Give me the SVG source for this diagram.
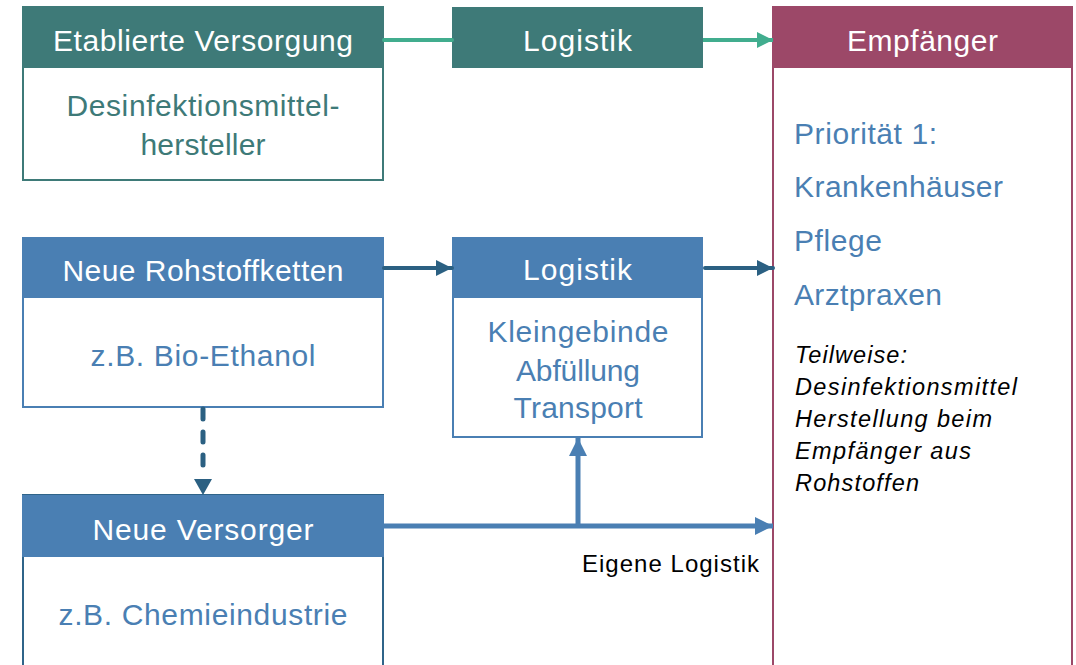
<svg xmlns="http://www.w3.org/2000/svg" width="1076" height="665" viewBox="0 0 1076 665">
<style>
text{font-family:"Liberation Sans",Arial,sans-serif}
.hd{fill:#fff;font-size:30px;text-anchor:middle}
.bt{font-size:30px;text-anchor:middle}
.teal{fill:#3E7A78}
.blue{fill:#4A7FB3}
.rt{fill:#4A7FB3;font-size:30px}
.it{fill:#000;font-size:23.5px;font-style:italic}
.box{fill:#fff;stroke-width:2}
</style>
<defs>
<marker id="aTeal" viewBox="0 0 10 10" refX="10" refY="5" markerWidth="4" markerHeight="4" orient="auto" markerUnits="strokeWidth"><path d="M0,0L10,5L0,10z" fill="#41AD8E"/></marker>
<marker id="aDark" viewBox="0 0 10 10" refX="10" refY="5" markerWidth="4" markerHeight="4" orient="auto" markerUnits="strokeWidth"><path d="M0,0L10,5L0,10z" fill="#2B6082"/></marker>
<marker id="aBlue" viewBox="0 0 10 10" refX="10" refY="5" markerWidth="3.6" markerHeight="3.6" orient="auto" markerUnits="strokeWidth"><path d="M0,0L10,5L0,10z" fill="#4A7FB3"/></marker>
</defs>

<g id="etablierte">
<rect class="box" x="23" y="7" width="360" height="173" stroke="#3E7A78"/>
<rect x="22" y="7" width="362" height="61" fill="#3E7A78"/>
<text class="hd" x="203" y="51" textLength="300">Etablierte Versorgung</text>
<text class="bt teal" x="203" y="116" textLength="273">Desinfektionsmittel-</text>
<text class="bt teal" x="203" y="155" textLength="125">hersteller</text>
</g>

<g id="logistik1">
<rect x="452" y="7" width="251" height="61" fill="#3E7A78"/>
<text class="hd" x="577.5" y="51" textLength="109">Logistik</text>
</g>

<g id="empfaenger">
<rect class="box" x="773" y="7" width="299" height="700" stroke="#9C4868"/>
<rect x="772" y="7" width="301" height="61" fill="#9C4868"/>
<text class="hd" x="922.5" y="51" textLength="151">Empfänger</text>
<text class="rt" x="794" y="144" textLength="143">Priorität 1:</text>
<text class="rt" x="794" y="197" textLength="209">Krankenhäuser</text>
<text class="rt" x="794" y="251" textLength="88">Pflege</text>
<text class="rt" x="794" y="305" textLength="148">Arztpraxen</text>
<text class="it" x="795" y="363" textLength="112">Teilweise:</text>
<text class="it" x="795" y="395" textLength="222">Desinfektionsmittel</text>
<text class="it" x="795" y="427" textLength="197">Herstellung beim</text>
<text class="it" x="795" y="459" textLength="176">Empfänger aus</text>
<text class="it" x="795" y="491" textLength="124">Rohstoffen</text>
</g>

<g id="rohstoffketten">
<rect class="box" x="23" y="238" width="360" height="169" stroke="#4A7FB3"/>
<rect x="22" y="238" width="362" height="60" fill="#4A7FB3"/>
<text class="hd" x="203" y="281" textLength="281">Neue Rohstoffketten</text>
<text class="bt blue" x="203" y="366" textLength="225">z.B. Bio-Ethanol</text>
</g>

<g id="logistik2">
<rect class="box" x="453" y="238" width="249" height="199" stroke="#4A7FB3"/>
<rect x="452" y="238" width="251" height="60" fill="#4A7FB3"/>
<text class="hd" x="577.5" y="280" textLength="109">Logistik</text>
<text class="bt blue" x="578" y="342" textLength="181">Kleingebinde</text>
<text class="bt blue" x="578" y="381" textLength="124">Abfüllung</text>
<text class="bt blue" x="578" y="418" textLength="129">Transport</text>
</g>

<g id="versorger">
<rect class="box" x="23" y="495" width="360" height="220" stroke="#2F6489"/>
<rect x="22" y="495" width="362" height="62" fill="#4A7FB3"/>
<text class="hd" x="203" y="540" textLength="221">Neue Versorger</text>
<text class="bt blue" x="203" y="625" textLength="289">z.B. Chemieindustrie</text>
</g>

<g id="connectors" fill="none">
<line x1="384" y1="40" x2="452" y2="40" stroke="#41AD8E" stroke-width="4" stroke-linecap="round"/>
<line x1="703" y1="40" x2="773" y2="40" stroke="#41AD8E" stroke-width="4" marker-end="url(#aTeal)"/>
<line x1="384" y1="268" x2="452" y2="268" stroke="#2B6082" stroke-width="4" stroke-linecap="round" marker-end="url(#aDark)"/>
<line x1="705" y1="268" x2="773" y2="268" stroke="#2B6082" stroke-width="4" stroke-linecap="round" marker-end="url(#aDark)"/>
<line x1="203" y1="409" x2="203" y2="474" stroke="#2B6082" stroke-width="5" stroke-linecap="round" stroke-dasharray="10 13"/>
<path d="M194,479L212,479L203,495z" fill="#2B6082"/>
<line x1="384" y1="526" x2="773" y2="526" stroke="#4A7FB3" stroke-width="5" marker-end="url(#aBlue)"/>
<line x1="578" y1="526" x2="578" y2="438" stroke="#4A7FB3" stroke-width="5" marker-end="url(#aBlue)"/>
<text x="582" y="572" font-size="24" fill="#000" textLength="177">Eigene Logistik</text>
</g>
</svg>
